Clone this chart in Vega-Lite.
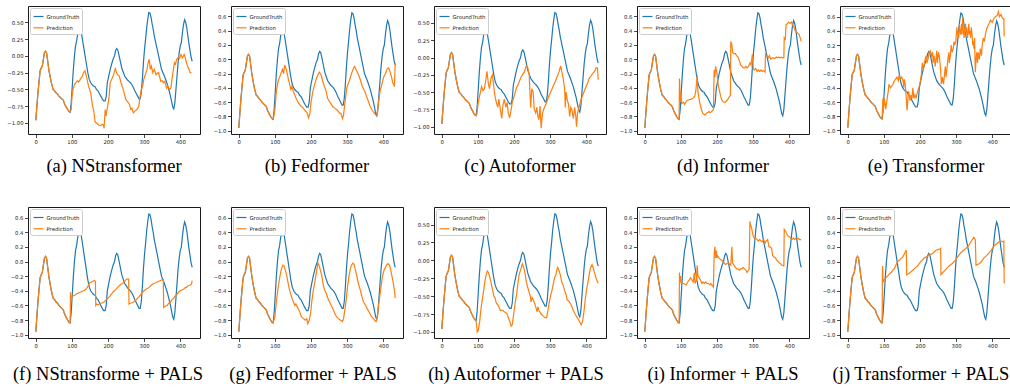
{
"$schema": "https://vega.github.io/schema/vega-lite/v6.json",
"background": "white",
"padding": {"left": 6, "top": 5, "right": 0, "bottom": 0},
"datasets": {
"gt": [
{"x":0,"y":-0.96},{"x":3,"y":-0.75},{"x":6,"y":-0.55},{"x":9,"y":-0.38},{"x":12,"y":-0.22},{"x":15,"y":-0.18},{"x":18,"y":-0.15},{"x":21,"y":-0.05},{"x":24,"y":0.05},{"x":27,"y":0.07},{"x":30,"y":0.04},{"x":33,"y":-0.08},{"x":36,"y":-0.2},{"x":40,"y":-0.32},{"x":44,"y":-0.42},{"x":48,"y":-0.5},{"x":52,"y":-0.52},{"x":56,"y":-0.55},{"x":60,"y":-0.57},{"x":64,"y":-0.6},{"x":68,"y":-0.62},{"x":72,"y":-0.64},{"x":76,"y":-0.66},{"x":80,"y":-0.72},{"x":84,"y":-0.76},{"x":88,"y":-0.8},{"x":92,"y":-0.83},{"x":95,"y":-0.84},{"x":98,"y":-0.7},{"x":101,"y":-0.45},{"x":104,"y":-0.2},{"x":107,"y":0.0},{"x":110,"y":0.15},{"x":113,"y":0.22},{"x":116,"y":0.33},{"x":119,"y":0.38},{"x":121,"y":0.37},{"x":123,"y":0.41},{"x":126,"y":0.35},{"x":129,"y":0.25},{"x":132,"y":0.15},{"x":135,"y":0.05},{"x":138,"y":-0.05},{"x":141,"y":-0.15},{"x":144,"y":-0.25},{"x":148,"y":-0.35},{"x":152,"y":-0.4},{"x":156,"y":-0.43},{"x":160,"y":-0.45},{"x":164,"y":-0.46},{"x":168,"y":-0.5},{"x":172,"y":-0.52},{"x":176,"y":-0.56},{"x":180,"y":-0.6},{"x":184,"y":-0.64},{"x":188,"y":-0.67},{"x":192,"y":-0.67},{"x":195,"y":-0.6},{"x":198,"y":-0.4},{"x":202,"y":-0.3},{"x":206,"y":-0.2},{"x":210,"y":-0.12},{"x":214,"y":-0.05},{"x":218,"y":0.0},{"x":221,"y":0.08},{"x":224,"y":0.11},{"x":227,"y":0.09},{"x":230,"y":0.02},{"x":234,"y":-0.08},{"x":238,"y":-0.18},{"x":242,"y":-0.24},{"x":246,"y":-0.3},{"x":250,"y":-0.33},{"x":254,"y":-0.36},{"x":258,"y":-0.38},{"x":262,"y":-0.4},{"x":266,"y":-0.43},{"x":270,"y":-0.47},{"x":274,"y":-0.52},{"x":278,"y":-0.56},{"x":282,"y":-0.6},{"x":286,"y":-0.64},{"x":289,"y":-0.64},{"x":292,"y":-0.55},{"x":295,"y":-0.35},{"x":298,"y":-0.1},{"x":301,"y":0.1},{"x":304,"y":0.25},{"x":307,"y":0.42},{"x":310,"y":0.55},{"x":313,"y":0.65},{"x":316,"y":0.64},{"x":319,"y":0.58},{"x":322,"y":0.48},{"x":325,"y":0.4},{"x":328,"y":0.3},{"x":332,"y":0.2},{"x":336,"y":0.1},{"x":340,"y":0.0},{"x":344,"y":-0.1},{"x":348,"y":-0.2},{"x":352,"y":-0.25},{"x":356,"y":-0.3},{"x":360,"y":-0.36},{"x":364,"y":-0.42},{"x":368,"y":-0.5},{"x":372,"y":-0.58},{"x":376,"y":-0.68},{"x":379,"y":-0.76},{"x":382,"y":-0.79},{"x":385,"y":-0.7},{"x":388,"y":-0.5},{"x":391,"y":-0.3},{"x":394,"y":-0.1},{"x":397,"y":0.05},{"x":400,"y":0.15},{"x":403,"y":0.2},{"x":406,"y":0.35},{"x":409,"y":0.47},{"x":412,"y":0.54},{"x":415,"y":0.5},{"x":418,"y":0.42},{"x":421,"y":0.3},{"x":424,"y":0.18},{"x":427,"y":0.08},{"x":430,"y":-0.02},{"x":433,"y":-0.08}
],
"pred": [
{"p":"a","x":95,"y":-0.84},{"p":"a","x":98,"y":-0.8},{"p":"a","x":100,"y":-0.62},{"p":"a","x":103,"y":-0.5},{"p":"a","x":106,"y":-0.45},{"p":"a","x":108,"y":-0.42},{"p":"a","x":111,"y":-0.4},{"p":"a","x":115,"y":-0.37},{"p":"a","x":118,"y":-0.39},{"p":"a","x":120,"y":-0.38},{"p":"a","x":125,"y":-0.33},{"p":"a","x":129,"y":-0.3},{"p":"a","x":132,"y":-0.25},{"p":"a","x":136,"y":-0.22},{"p":"a","x":140,"y":-0.3},{"p":"a","x":146,"y":-0.45},{"p":"a","x":152,"y":-0.55},{"p":"a","x":157,"y":-0.75},{"p":"a","x":160,"y":-0.8},{"p":"a","x":164,"y":-0.98},{"p":"a","x":168,"y":-1.0},{"p":"a","x":174,"y":-1.03},{"p":"a","x":180,"y":-1.04},{"p":"a","x":184,"y":-1.02},{"p":"a","x":187,"y":-1.03},{"p":"a","x":189,"y":-1.08},{"p":"a","x":192,"y":-0.8},{"p":"a","x":194,"y":-0.9},{"p":"a","x":199,"y":-0.75},{"p":"a","x":203,"y":-0.6},{"p":"a","x":206,"y":-0.4},{"p":"a","x":210,"y":-0.35},{"p":"a","x":214,"y":-0.3},{"p":"a","x":217,"y":-0.25},{"p":"a","x":220,"y":-0.19},{"p":"a","x":223,"y":-0.24},{"p":"a","x":226,"y":-0.28},{"p":"a","x":231,"y":-0.3},{"p":"a","x":236,"y":-0.4},{"p":"a","x":242,"y":-0.5},{"p":"a","x":246,"y":-0.58},{"p":"a","x":249,"y":-0.65},{"p":"a","x":254,"y":-0.68},{"p":"a","x":259,"y":-0.72},{"p":"a","x":263,"y":-0.8},{"p":"a","x":266,"y":-0.78},{"p":"a","x":270,"y":-0.85},{"p":"a","x":275,"y":-0.82},{"p":"a","x":280,"y":-0.8},{"p":"a","x":285,"y":-0.75},{"p":"a","x":289,"y":-0.6},{"p":"a","x":292,"y":-0.5},{"p":"a","x":296,"y":-0.45},{"p":"a","x":299,"y":-0.35},{"p":"a","x":302,"y":-0.3},{"p":"a","x":305,"y":-0.25},{"p":"a","x":308,"y":-0.2},{"p":"a","x":311,"y":-0.1},{"p":"a","x":314,"y":-0.05},{"p":"a","x":317,"y":-0.2},{"p":"a","x":320,"y":-0.15},{"p":"a","x":324,"y":-0.25},{"p":"a","x":328,"y":-0.2},{"p":"a","x":333,"y":-0.28},{"p":"a","x":336,"y":-0.26},{"p":"a","x":340,"y":-0.25},{"p":"a","x":346,"y":-0.38},{"p":"a","x":350,"y":-0.37},{"p":"a","x":353,"y":-0.4},{"p":"a","x":357,"y":-0.38},{"p":"a","x":362,"y":-0.48},{"p":"a","x":365,"y":-0.45},{"p":"a","x":370,"y":-0.5},{"p":"a","x":374,"y":-0.48},{"p":"a","x":377,"y":-0.35},{"p":"a","x":381,"y":-0.2},{"p":"a","x":384,"y":-0.1},{"p":"a","x":387,"y":-0.12},{"p":"a","x":390,"y":-0.05},{"p":"a","x":395,"y":-0.02},{"p":"a","x":398,"y":-0.04},{"p":"a","x":402,"y":0.02},{"p":"a","x":406,"y":-0.03},{"p":"a","x":411,"y":0.02},{"p":"a","x":414,"y":-0.03},{"p":"a","x":416,"y":-0.08},{"p":"a","x":420,"y":-0.15},{"p":"a","x":424,"y":-0.2},{"p":"a","x":427,"y":-0.25},{"p":"a","x":431,"y":-0.25},
{"p":"b","x":95,"y":-0.84},{"p":"b","x":97,"y":-0.8},{"p":"b","x":100,"y":-0.7},{"p":"b","x":104,"y":-0.45},{"p":"b","x":109,"y":-0.3},{"p":"b","x":113,"y":-0.25},{"p":"b","x":118,"y":-0.18},{"p":"b","x":121,"y":-0.14},{"p":"b","x":124,"y":-0.2},{"p":"b","x":127,"y":-0.08},{"p":"b","x":132,"y":-0.15},{"p":"b","x":135,"y":-0.22},{"p":"b","x":138,"y":-0.3},{"p":"b","x":141,"y":-0.35},{"p":"b","x":144,"y":-0.42},{"p":"b","x":147,"y":-0.38},{"p":"b","x":151,"y":-0.45},{"p":"b","x":155,"y":-0.5},{"p":"b","x":159,"y":-0.55},{"p":"b","x":164,"y":-0.6},{"p":"b","x":171,"y":-0.65},{"p":"b","x":178,"y":-0.68},{"p":"b","x":184,"y":-0.72},{"p":"b","x":189,"y":-0.75},{"p":"b","x":193,"y":-0.82},{"p":"b","x":197,"y":-0.75},{"p":"b","x":200,"y":-0.6},{"p":"b","x":205,"y":-0.45},{"p":"b","x":210,"y":-0.35},{"p":"b","x":214,"y":-0.28},{"p":"b","x":219,"y":-0.22},{"p":"b","x":223,"y":-0.18},{"p":"b","x":228,"y":-0.22},{"p":"b","x":232,"y":-0.3},{"p":"b","x":237,"y":-0.38},{"p":"b","x":242,"y":-0.45},{"p":"b","x":246,"y":-0.55},{"p":"b","x":255,"y":-0.62},{"p":"b","x":260,"y":-0.66},{"p":"b","x":265,"y":-0.68},{"p":"b","x":270,"y":-0.7},{"p":"b","x":274,"y":-0.72},{"p":"b","x":279,"y":-0.75},{"p":"b","x":283,"y":-0.76},{"p":"b","x":287,"y":-0.83},{"p":"b","x":290,"y":-0.78},{"p":"b","x":294,"y":-0.6},{"p":"b","x":299,"y":-0.4},{"p":"b","x":306,"y":-0.3},{"p":"b","x":312,"y":-0.2},{"p":"b","x":318,"y":-0.12},{"p":"b","x":321,"y":-0.1},{"p":"b","x":325,"y":-0.15},{"p":"b","x":330,"y":-0.2},{"p":"b","x":336,"y":-0.28},{"p":"b","x":342,"y":-0.38},{"p":"b","x":349,"y":-0.45},{"p":"b","x":356,"y":-0.55},{"p":"b","x":363,"y":-0.65},{"p":"b","x":370,"y":-0.72},{"p":"b","x":376,"y":-0.76},{"p":"b","x":380,"y":-0.78},{"p":"b","x":383,"y":-0.76},{"p":"b","x":387,"y":-0.6},{"p":"b","x":391,"y":-0.45},{"p":"b","x":396,"y":-0.35},{"p":"b","x":401,"y":-0.25},{"p":"b","x":406,"y":-0.2},{"p":"b","x":411,"y":-0.13},{"p":"b","x":415,"y":-0.12},{"p":"b","x":419,"y":-0.18},{"p":"b","x":423,"y":-0.25},{"p":"b","x":426,"y":-0.33},{"p":"b","x":429,"y":-0.35},{"p":"b","x":431,"y":-0.38},{"p":"b","x":433,"y":-0.05},
{"p":"c","x":95,"y":-0.84},{"p":"c","x":97,"y":-0.82},{"p":"c","x":101,"y":-0.65},{"p":"c","x":106,"y":-0.52},{"p":"c","x":110,"y":-0.42},{"p":"c","x":114,"y":-0.48},{"p":"c","x":118,"y":-0.45},{"p":"c","x":121,"y":-0.35},{"p":"c","x":125,"y":-0.2},{"p":"c","x":129,"y":-0.38},{"p":"c","x":132,"y":-0.45},{"p":"c","x":136,"y":-0.3},{"p":"c","x":140,"y":-0.25},{"p":"c","x":143,"y":-0.38},{"p":"c","x":147,"y":-0.55},{"p":"c","x":151,"y":-0.65},{"p":"c","x":155,"y":-0.72},{"p":"c","x":158,"y":-0.6},{"p":"c","x":162,"y":-0.75},{"p":"c","x":166,"y":-0.88},{"p":"c","x":169,"y":-0.7},{"p":"c","x":173,"y":-0.6},{"p":"c","x":177,"y":-0.72},{"p":"c","x":181,"y":-0.65},{"p":"c","x":184,"y":-0.8},{"p":"c","x":188,"y":-0.87},{"p":"c","x":192,"y":-0.75},{"p":"c","x":195,"y":-0.65},{"p":"c","x":201,"y":-0.55},{"p":"c","x":206,"y":-0.45},{"p":"c","x":212,"y":-0.38},{"p":"c","x":218,"y":-0.3},{"p":"c","x":223,"y":-0.25},{"p":"c","x":229,"y":-0.2},{"p":"c","x":234,"y":-0.12},{"p":"c","x":238,"y":-0.15},{"p":"c","x":242,"y":-0.25},{"p":"c","x":244,"y":-0.5},{"p":"c","x":246,"y":-0.72},{"p":"c","x":249,"y":-0.45},{"p":"c","x":253,"y":-0.5},{"p":"c","x":256,"y":-0.75},{"p":"c","x":260,"y":-0.8},{"p":"c","x":263,"y":-0.72},{"p":"c","x":266,"y":-0.85},{"p":"c","x":269,"y":-0.9},{"p":"c","x":272,"y":-0.7},{"p":"c","x":275,"y":-1.02},{"p":"c","x":279,"y":-0.8},{"p":"c","x":282,"y":-0.75},{"p":"c","x":286,"y":-0.7},{"p":"c","x":292,"y":-0.62},{"p":"c","x":297,"y":-0.55},{"p":"c","x":303,"y":-0.48},{"p":"c","x":308,"y":-0.42},{"p":"c","x":314,"y":-0.35},{"p":"c","x":319,"y":-0.28},{"p":"c","x":325,"y":-0.2},{"p":"c","x":329,"y":-0.12},{"p":"c","x":332,"y":-0.2},{"p":"c","x":336,"y":-0.3},{"p":"c","x":340,"y":-0.45},{"p":"c","x":342,"y":-0.72},{"p":"c","x":344,"y":-0.5},{"p":"c","x":347,"y":-0.6},{"p":"c","x":351,"y":-0.68},{"p":"c","x":354,"y":-0.85},{"p":"c","x":357,"y":-0.72},{"p":"c","x":360,"y":-0.75},{"p":"c","x":364,"y":-0.88},{"p":"c","x":368,"y":-0.72},{"p":"c","x":371,"y":-0.85},{"p":"c","x":373,"y":-1.0},{"p":"c","x":376,"y":-0.8},{"p":"c","x":381,"y":-0.7},{"p":"c","x":386,"y":-0.6},{"p":"c","x":392,"y":-0.52},{"p":"c","x":397,"y":-0.45},{"p":"c","x":403,"y":-0.38},{"p":"c","x":408,"y":-0.3},{"p":"c","x":414,"y":-0.26},{"p":"c","x":419,"y":-0.22},{"p":"c","x":423,"y":-0.2},{"p":"c","x":427,"y":-0.15},{"p":"c","x":431,"y":-0.15},{"p":"c","x":433,"y":-0.32},
{"p":"d","x":95,"y":-0.84},{"p":"d","x":96,"y":-0.27},{"p":"d","x":98,"y":-0.6},{"p":"d","x":100,"y":-0.45},{"p":"d","x":102,"y":-0.62},{"p":"d","x":107,"y":-0.6},{"p":"d","x":110,"y":-0.63},{"p":"d","x":116,"y":-0.58},{"p":"d","x":121,"y":-0.57},{"p":"d","x":127,"y":-0.56},{"p":"d","x":132,"y":-0.55},{"p":"d","x":138,"y":-0.52},{"p":"d","x":141,"y":-0.45},{"p":"d","x":143,"y":-0.35},{"p":"d","x":145,"y":-0.22},{"p":"d","x":147,"y":-0.45},{"p":"d","x":150,"y":-0.55},{"p":"d","x":154,"y":-0.65},{"p":"d","x":158,"y":-0.72},{"p":"d","x":161,"y":-0.76},{"p":"d","x":167,"y":-0.78},{"p":"d","x":172,"y":-0.75},{"p":"d","x":178,"y":-0.73},{"p":"d","x":181,"y":-0.75},{"p":"d","x":187,"y":-0.72},{"p":"d","x":190,"y":-0.7},{"p":"d","x":192,"y":-0.15},{"p":"d","x":194,"y":-0.25},{"p":"d","x":196,"y":-0.1},{"p":"d","x":200,"y":-0.2},{"p":"d","x":203,"y":-0.35},{"p":"d","x":207,"y":-0.45},{"p":"d","x":210,"y":-0.52},{"p":"d","x":214,"y":-0.58},{"p":"d","x":218,"y":-0.6},{"p":"d","x":223,"y":-0.6},{"p":"d","x":227,"y":-0.58},{"p":"d","x":231,"y":-0.55},{"p":"d","x":237,"y":-0.5},{"p":"d","x":238,"y":0.25},{"p":"d","x":241,"y":0.2},{"p":"d","x":243,"y":0.1},{"p":"d","x":247,"y":0.08},{"p":"d","x":251,"y":0.08},{"p":"d","x":254,"y":0.05},{"p":"d","x":258,"y":0.03},{"p":"d","x":262,"y":-0.02},{"p":"d","x":265,"y":-0.08},{"p":"d","x":269,"y":-0.1},{"p":"d","x":272,"y":-0.12},{"p":"d","x":276,"y":-0.12},{"p":"d","x":280,"y":-0.1},{"p":"d","x":283,"y":-0.12},{"p":"d","x":287,"y":-0.1},{"p":"d","x":291,"y":-0.05},{"p":"d","x":294,"y":-0.08},{"p":"d","x":298,"y":0.07},{"p":"d","x":300,"y":-0.12},{"p":"d","x":303,"y":-0.15},{"p":"d","x":307,"y":-0.13},{"p":"d","x":311,"y":-0.17},{"p":"d","x":314,"y":-0.15},{"p":"d","x":318,"y":-0.17},{"p":"d","x":322,"y":-0.15},{"p":"d","x":325,"y":-0.17},{"p":"d","x":329,"y":-0.16},{"p":"d","x":333,"y":-0.18},{"p":"d","x":334,"y":0.07},{"p":"d","x":338,"y":0.05},{"p":"d","x":342,"y":0.02},{"p":"d","x":345,"y":0.05},{"p":"d","x":349,"y":0.0},{"p":"d","x":353,"y":0.02},{"p":"d","x":356,"y":0.02},{"p":"d","x":360,"y":0.01},{"p":"d","x":364,"y":0.03},{"p":"d","x":367,"y":0.02},{"p":"d","x":371,"y":0.03},{"p":"d","x":375,"y":0.02},{"p":"d","x":378,"y":0.03},{"p":"d","x":382,"y":0.02},{"p":"d","x":385,"y":0.02},{"p":"d","x":386,"y":0.3},{"p":"d","x":389,"y":0.28},{"p":"d","x":391,"y":0.48},{"p":"d","x":395,"y":0.5},{"p":"d","x":398,"y":0.52},{"p":"d","x":402,"y":0.5},{"p":"d","x":406,"y":0.52},{"p":"d","x":409,"y":0.48},{"p":"d","x":413,"y":0.45},{"p":"d","x":416,"y":0.4},{"p":"d","x":420,"y":0.38},{"p":"d","x":424,"y":0.36},{"p":"d","x":427,"y":0.35},{"p":"d","x":430,"y":0.3},{"p":"d","x":432,"y":0.28},{"p":"d","x":433,"y":0.25},
{"p":"e","x":95,"y":-0.84},{"p":"e","x":97,"y":-0.55},{"p":"e","x":98,"y":-0.75},{"p":"e","x":101,"y":-0.55},{"p":"e","x":105,"y":-0.7},{"p":"e","x":109,"y":-0.55},{"p":"e","x":112,"y":-0.45},{"p":"e","x":114,"y":-0.35},{"p":"e","x":118,"y":-0.4},{"p":"e","x":121,"y":-0.38},{"p":"e","x":125,"y":-0.35},{"p":"e","x":129,"y":-0.3},{"p":"e","x":132,"y":-0.28},{"p":"e","x":136,"y":-0.25},{"p":"e","x":140,"y":-0.3},{"p":"e","x":142,"y":-0.22},{"p":"e","x":145,"y":-0.28},{"p":"e","x":149,"y":-0.25},{"p":"e","x":153,"y":-0.3},{"p":"e","x":155,"y":-0.4},{"p":"e","x":156,"y":-0.28},{"p":"e","x":159,"y":-0.35},{"p":"e","x":162,"y":-0.55},{"p":"e","x":164,"y":-0.72},{"p":"e","x":166,"y":-0.6},{"p":"e","x":167,"y":-0.5},{"p":"e","x":169,"y":-0.45},{"p":"e","x":172,"y":-0.58},{"p":"e","x":175,"y":-0.5},{"p":"e","x":178,"y":-0.55},{"p":"e","x":180,"y":-0.4},{"p":"e","x":183,"y":-0.55},{"p":"e","x":186,"y":-0.5},{"p":"e","x":189,"y":-0.55},{"p":"e","x":193,"y":-0.45},{"p":"e","x":197,"y":-0.4},{"p":"e","x":201,"y":-0.3},{"p":"e","x":204,"y":-0.2},{"p":"e","x":206,"y":-0.05},{"p":"e","x":209,"y":-0.15},{"p":"e","x":212,"y":-0.05},{"p":"e","x":214,"y":0.0},{"p":"e","x":217,"y":0.05},{"p":"e","x":219,"y":-0.05},{"p":"e","x":223,"y":0.02},{"p":"e","x":225,"y":0.1},{"p":"e","x":228,"y":0.12},{"p":"e","x":232,"y":0.05},{"p":"e","x":235,"y":0.1},{"p":"e","x":236,"y":-0.05},{"p":"e","x":239,"y":0.05},{"p":"e","x":242,"y":-0.1},{"p":"e","x":245,"y":0.05},{"p":"e","x":246,"y":0.12},{"p":"e","x":248,"y":-0.05},{"p":"e","x":251,"y":0.1},{"p":"e","x":254,"y":0.02},{"p":"e","x":257,"y":-0.15},{"p":"e","x":259,"y":-0.35},{"p":"e","x":262,"y":-0.25},{"p":"e","x":265,"y":-0.35},{"p":"e","x":268,"y":-0.2},{"p":"e","x":270,"y":-0.1},{"p":"e","x":272,"y":-0.25},{"p":"e","x":274,"y":-0.15},{"p":"e","x":277,"y":0.0},{"p":"e","x":280,"y":0.1},{"p":"e","x":281,"y":-0.05},{"p":"e","x":284,"y":0.05},{"p":"e","x":286,"y":0.2},{"p":"e","x":289,"y":0.1},{"p":"e","x":292,"y":0.15},{"p":"e","x":294,"y":0.25},{"p":"e","x":296,"y":0.2},{"p":"e","x":299,"y":0.25},{"p":"e","x":302,"y":0.45},{"p":"e","x":303,"y":0.35},{"p":"e","x":305,"y":0.4},{"p":"e","x":307,"y":0.3},{"p":"e","x":309,"y":0.5},{"p":"e","x":311,"y":0.38},{"p":"e","x":313,"y":0.35},{"p":"e","x":315,"y":0.5},{"p":"e","x":316,"y":0.35},{"p":"e","x":318,"y":0.6},{"p":"e","x":320,"y":0.4},{"p":"e","x":322,"y":0.3},{"p":"e","x":324,"y":0.45},{"p":"e","x":326,"y":0.5},{"p":"e","x":327,"y":0.35},{"p":"e","x":329,"y":0.45},{"p":"e","x":331,"y":0.3},{"p":"e","x":333,"y":0.35},{"p":"e","x":335,"y":0.5},{"p":"e","x":337,"y":0.35},{"p":"e","x":338,"y":0.4},{"p":"e","x":340,"y":0.3},{"p":"e","x":342,"y":0.45},{"p":"e","x":344,"y":0.35},{"p":"e","x":346,"y":0.2},{"p":"e","x":348,"y":0.25},{"p":"e","x":349,"y":0.15},{"p":"e","x":351,"y":0.3},{"p":"e","x":353,"y":-0.18},{"p":"e","x":355,"y":0.0},{"p":"e","x":357,"y":0.1},{"p":"e","x":359,"y":-0.05},{"p":"e","x":361,"y":0.1},{"p":"e","x":364,"y":0.0},{"p":"e","x":367,"y":0.15},{"p":"e","x":370,"y":0.05},{"p":"e","x":372,"y":0.2},{"p":"e","x":375,"y":0.3},{"p":"e","x":378,"y":0.25},{"p":"e","x":381,"y":0.35},{"p":"e","x":383,"y":0.4},{"p":"e","x":386,"y":0.45},{"p":"e","x":391,"y":0.5},{"p":"e","x":395,"y":0.55},{"p":"e","x":400,"y":0.52},{"p":"e","x":405,"y":0.58},{"p":"e","x":409,"y":0.6},{"p":"e","x":414,"y":0.62},{"p":"e","x":417,"y":0.67},{"p":"e","x":420,"y":0.6},{"p":"e","x":424,"y":0.63},{"p":"e","x":428,"y":0.58},{"p":"e","x":431,"y":0.57},{"p":"e","x":432,"y":0.57},{"p":"e","x":433,"y":0.32},
{"p":"f","x":95,"y":-0.84},{"p":"f","x":96,"y":-0.42},{"p":"f","x":97,"y":-0.5},{"p":"f","x":99,"y":-0.49},{"p":"f","x":103,"y":-0.47},{"p":"f","x":108,"y":-0.46},{"p":"f","x":113,"y":-0.44},{"p":"f","x":118,"y":-0.43},{"p":"f","x":123,"y":-0.42},{"p":"f","x":127,"y":-0.41},{"p":"f","x":132,"y":-0.4},{"p":"f","x":136,"y":-0.39},{"p":"f","x":140,"y":-0.37},{"p":"f","x":143,"y":-0.35},{"p":"f","x":147,"y":-0.31},{"p":"f","x":150,"y":-0.29},{"p":"f","x":154,"y":-0.28},{"p":"f","x":158,"y":-0.27},{"p":"f","x":162,"y":-0.26},{"p":"f","x":165,"y":-0.27},{"p":"f","x":166,"y":-0.6},{"p":"f","x":169,"y":-0.58},{"p":"f","x":172,"y":-0.59},{"p":"f","x":176,"y":-0.58},{"p":"f","x":181,"y":-0.57},{"p":"f","x":186,"y":-0.56},{"p":"f","x":190,"y":-0.55},{"p":"f","x":195,"y":-0.52},{"p":"f","x":200,"y":-0.5},{"p":"f","x":204,"y":-0.48},{"p":"f","x":209,"y":-0.45},{"p":"f","x":213,"y":-0.42},{"p":"f","x":218,"y":-0.4},{"p":"f","x":222,"y":-0.38},{"p":"f","x":227,"y":-0.35},{"p":"f","x":231,"y":-0.33},{"p":"f","x":236,"y":-0.31},{"p":"f","x":240,"y":-0.3},{"p":"f","x":245,"y":-0.28},{"p":"f","x":249,"y":-0.25},{"p":"f","x":252,"y":-0.24},{"p":"f","x":257,"y":-0.24},{"p":"f","x":258,"y":-0.58},{"p":"f","x":260,"y":-0.57},{"p":"f","x":263,"y":-0.57},{"p":"f","x":268,"y":-0.56},{"p":"f","x":272,"y":-0.55},{"p":"f","x":277,"y":-0.53},{"p":"f","x":282,"y":-0.5},{"p":"f","x":286,"y":-0.48},{"p":"f","x":291,"y":-0.45},{"p":"f","x":295,"y":-0.42},{"p":"f","x":300,"y":-0.4},{"p":"f","x":305,"y":-0.38},{"p":"f","x":309,"y":-0.37},{"p":"f","x":314,"y":-0.35},{"p":"f","x":318,"y":-0.33},{"p":"f","x":323,"y":-0.31},{"p":"f","x":327,"y":-0.3},{"p":"f","x":332,"y":-0.29},{"p":"f","x":336,"y":-0.28},{"p":"f","x":341,"y":-0.27},{"p":"f","x":345,"y":-0.26},{"p":"f","x":350,"y":-0.25},{"p":"f","x":353,"y":-0.25},{"p":"f","x":354,"y":-0.63},{"p":"f","x":358,"y":-0.61},{"p":"f","x":364,"y":-0.6},{"p":"f","x":368,"y":-0.57},{"p":"f","x":373,"y":-0.55},{"p":"f","x":377,"y":-0.52},{"p":"f","x":382,"y":-0.5},{"p":"f","x":386,"y":-0.47},{"p":"f","x":391,"y":-0.45},{"p":"f","x":395,"y":-0.42},{"p":"f","x":400,"y":-0.4},{"p":"f","x":404,"y":-0.39},{"p":"f","x":409,"y":-0.38},{"p":"f","x":413,"y":-0.36},{"p":"f","x":418,"y":-0.35},{"p":"f","x":422,"y":-0.33},{"p":"f","x":427,"y":-0.32},{"p":"f","x":431,"y":-0.31},{"p":"f","x":433,"y":-0.26},
{"p":"g","x":95,"y":-0.84},{"p":"g","x":100,"y":-0.75},{"p":"g","x":104,"y":-0.55},{"p":"g","x":109,"y":-0.35},{"p":"g","x":114,"y":-0.2},{"p":"g","x":118,"y":-0.1},{"p":"g","x":122,"y":-0.05},{"p":"g","x":125,"y":-0.06},{"p":"g","x":129,"y":-0.12},{"p":"g","x":133,"y":-0.2},{"p":"g","x":136,"y":-0.28},{"p":"g","x":140,"y":-0.38},{"p":"g","x":144,"y":-0.45},{"p":"g","x":147,"y":-0.5},{"p":"g","x":151,"y":-0.55},{"p":"g","x":155,"y":-0.6},{"p":"g","x":158,"y":-0.58},{"p":"g","x":162,"y":-0.62},{"p":"g","x":168,"y":-0.68},{"p":"g","x":173,"y":-0.75},{"p":"g","x":179,"y":-0.78},{"p":"g","x":184,"y":-0.8},{"p":"g","x":188,"y":-0.78},{"p":"g","x":191,"y":-0.85},{"p":"g","x":195,"y":-0.8},{"p":"g","x":199,"y":-0.7},{"p":"g","x":202,"y":-0.55},{"p":"g","x":206,"y":-0.4},{"p":"g","x":210,"y":-0.3},{"p":"g","x":213,"y":-0.2},{"p":"g","x":217,"y":-0.08},{"p":"g","x":219,"y":-0.02},{"p":"g","x":222,"y":-0.05},{"p":"g","x":226,"y":-0.12},{"p":"g","x":230,"y":-0.2},{"p":"g","x":233,"y":-0.3},{"p":"g","x":237,"y":-0.38},{"p":"g","x":243,"y":-0.45},{"p":"g","x":248,"y":-0.52},{"p":"g","x":254,"y":-0.58},{"p":"g","x":259,"y":-0.63},{"p":"g","x":265,"y":-0.7},{"p":"g","x":270,"y":-0.75},{"p":"g","x":276,"y":-0.78},{"p":"g","x":281,"y":-0.8},{"p":"g","x":287,"y":-0.82},{"p":"g","x":290,"y":-0.78},{"p":"g","x":294,"y":-0.65},{"p":"g","x":298,"y":-0.5},{"p":"g","x":301,"y":-0.35},{"p":"g","x":305,"y":-0.2},{"p":"g","x":309,"y":-0.1},{"p":"g","x":312,"y":-0.05},{"p":"g","x":316,"y":-0.02},{"p":"g","x":320,"y":-0.05},{"p":"g","x":323,"y":-0.12},{"p":"g","x":327,"y":-0.2},{"p":"g","x":330,"y":-0.28},{"p":"g","x":334,"y":-0.35},{"p":"g","x":338,"y":-0.42},{"p":"g","x":341,"y":-0.48},{"p":"g","x":345,"y":-0.55},{"p":"g","x":351,"y":-0.6},{"p":"g","x":356,"y":-0.65},{"p":"g","x":362,"y":-0.7},{"p":"g","x":367,"y":-0.75},{"p":"g","x":373,"y":-0.78},{"p":"g","x":376,"y":-0.8},{"p":"g","x":380,"y":-0.82},{"p":"g","x":384,"y":-0.75},{"p":"g","x":387,"y":-0.6},{"p":"g","x":391,"y":-0.45},{"p":"g","x":395,"y":-0.3},{"p":"g","x":398,"y":-0.2},{"p":"g","x":402,"y":-0.12},{"p":"g","x":406,"y":-0.08},{"p":"g","x":409,"y":-0.05},{"p":"g","x":413,"y":-0.03},{"p":"g","x":417,"y":-0.05},{"p":"g","x":420,"y":-0.1},{"p":"g","x":424,"y":-0.2},{"p":"g","x":428,"y":-0.3},{"p":"g","x":431,"y":-0.4},{"p":"g","x":433,"y":-0.5},
{"p":"h","x":95,"y":-0.84},{"p":"h","x":98,"y":-1.0},{"p":"h","x":101,"y":-0.98},{"p":"h","x":105,"y":-0.85},{"p":"h","x":108,"y":-0.7},{"p":"h","x":112,"y":-0.55},{"p":"h","x":116,"y":-0.42},{"p":"h","x":119,"y":-0.3},{"p":"h","x":123,"y":-0.2},{"p":"h","x":126,"y":-0.15},{"p":"h","x":129,"y":-0.17},{"p":"h","x":132,"y":-0.22},{"p":"h","x":136,"y":-0.3},{"p":"h","x":140,"y":-0.4},{"p":"h","x":144,"y":-0.5},{"p":"h","x":147,"y":-0.52},{"p":"h","x":151,"y":-0.6},{"p":"h","x":155,"y":-0.62},{"p":"h","x":158,"y":-0.65},{"p":"h","x":162,"y":-0.7},{"p":"h","x":166,"y":-0.7},{"p":"h","x":169,"y":-0.7},{"p":"h","x":173,"y":-0.72},{"p":"h","x":177,"y":-0.73},{"p":"h","x":181,"y":-0.75},{"p":"h","x":184,"y":-0.8},{"p":"h","x":188,"y":-0.85},{"p":"h","x":192,"y":-0.92},{"p":"h","x":195,"y":-0.9},{"p":"h","x":199,"y":-0.75},{"p":"h","x":203,"y":-0.6},{"p":"h","x":207,"y":-0.48},{"p":"h","x":210,"y":-0.35},{"p":"h","x":214,"y":-0.2},{"p":"h","x":219,"y":-0.12},{"p":"h","x":223,"y":-0.05},{"p":"h","x":227,"y":-0.1},{"p":"h","x":231,"y":-0.2},{"p":"h","x":234,"y":-0.3},{"p":"h","x":238,"y":-0.38},{"p":"h","x":242,"y":-0.45},{"p":"h","x":245,"y":-0.5},{"p":"h","x":247,"y":-0.58},{"p":"h","x":250,"y":-0.52},{"p":"h","x":253,"y":-0.55},{"p":"h","x":257,"y":-0.6},{"p":"h","x":260,"y":-0.65},{"p":"h","x":264,"y":-0.72},{"p":"h","x":266,"y":-0.65},{"p":"h","x":269,"y":-0.7},{"p":"h","x":275,"y":-0.75},{"p":"h","x":281,"y":-0.78},{"p":"h","x":286,"y":-0.8},{"p":"h","x":290,"y":-0.8},{"p":"h","x":294,"y":-0.7},{"p":"h","x":297,"y":-0.6},{"p":"h","x":301,"y":-0.5},{"p":"h","x":305,"y":-0.42},{"p":"h","x":308,"y":-0.35},{"p":"h","x":312,"y":-0.25},{"p":"h","x":316,"y":-0.2},{"p":"h","x":319,"y":-0.12},{"p":"h","x":321,"y":-0.1},{"p":"h","x":325,"y":-0.15},{"p":"h","x":329,"y":-0.22},{"p":"h","x":332,"y":-0.3},{"p":"h","x":336,"y":-0.35},{"p":"h","x":340,"y":-0.42},{"p":"h","x":344,"y":-0.48},{"p":"h","x":347,"y":-0.55},{"p":"h","x":353,"y":-0.58},{"p":"h","x":358,"y":-0.62},{"p":"h","x":364,"y":-0.7},{"p":"h","x":369,"y":-0.75},{"p":"h","x":375,"y":-0.8},{"p":"h","x":381,"y":-0.85},{"p":"h","x":386,"y":-0.9},{"p":"h","x":390,"y":-0.85},{"p":"h","x":394,"y":-0.7},{"p":"h","x":397,"y":-0.55},{"p":"h","x":401,"y":-0.4},{"p":"h","x":405,"y":-0.3},{"p":"h","x":408,"y":-0.2},{"p":"h","x":412,"y":-0.1},{"p":"h","x":416,"y":-0.06},{"p":"h","x":419,"y":-0.1},{"p":"h","x":423,"y":-0.18},{"p":"h","x":427,"y":-0.25},{"p":"h","x":431,"y":-0.3},{"p":"h","x":433,"y":-0.32},
{"p":"i","x":95,"y":-0.84},{"p":"i","x":96,"y":-0.15},{"p":"i","x":97,"y":-0.3},{"p":"i","x":99,"y":-0.2},{"p":"i","x":101,"y":-0.28},{"p":"i","x":105,"y":-0.3},{"p":"i","x":108,"y":-0.3},{"p":"i","x":114,"y":-0.32},{"p":"i","x":119,"y":-0.28},{"p":"i","x":123,"y":-0.25},{"p":"i","x":127,"y":-0.22},{"p":"i","x":130,"y":-0.25},{"p":"i","x":134,"y":-0.28},{"p":"i","x":137,"y":-0.15},{"p":"i","x":139,"y":-0.3},{"p":"i","x":143,"y":-0.25},{"p":"i","x":145,"y":-0.05},{"p":"i","x":147,"y":-0.2},{"p":"i","x":150,"y":-0.22},{"p":"i","x":154,"y":-0.25},{"p":"i","x":158,"y":-0.3},{"p":"i","x":161,"y":-0.28},{"p":"i","x":165,"y":-0.3},{"p":"i","x":169,"y":-0.28},{"p":"i","x":172,"y":-0.3},{"p":"i","x":176,"y":-0.3},{"p":"i","x":180,"y":-0.32},{"p":"i","x":183,"y":-0.3},{"p":"i","x":187,"y":-0.33},{"p":"i","x":190,"y":-0.35},{"p":"i","x":192,"y":0.1},{"p":"i","x":194,"y":0.2},{"p":"i","x":196,"y":0.05},{"p":"i","x":198,"y":0.15},{"p":"i","x":200,"y":0.05},{"p":"i","x":201,"y":0.08},{"p":"i","x":205,"y":0.05},{"p":"i","x":209,"y":0.03},{"p":"i","x":212,"y":0.02},{"p":"i","x":216,"y":0.0},{"p":"i","x":220,"y":-0.02},{"p":"i","x":223,"y":-0.04},{"p":"i","x":227,"y":-0.03},{"p":"i","x":231,"y":-0.02},{"p":"i","x":234,"y":-0.03},{"p":"i","x":238,"y":-0.05},{"p":"i","x":241,"y":0.2},{"p":"i","x":243,"y":-0.02},{"p":"i","x":247,"y":-0.05},{"p":"i","x":251,"y":-0.08},{"p":"i","x":254,"y":-0.1},{"p":"i","x":258,"y":-0.1},{"p":"i","x":262,"y":-0.12},{"p":"i","x":265,"y":-0.1},{"p":"i","x":269,"y":-0.1},{"p":"i","x":272,"y":-0.08},{"p":"i","x":276,"y":-0.1},{"p":"i","x":280,"y":-0.12},{"p":"i","x":283,"y":-0.15},{"p":"i","x":287,"y":-0.12},{"p":"i","x":289,"y":-0.1},{"p":"i","x":291,"y":0.55},{"p":"i","x":293,"y":0.5},{"p":"i","x":296,"y":0.45},{"p":"i","x":300,"y":0.35},{"p":"i","x":303,"y":0.32},{"p":"i","x":307,"y":0.32},{"p":"i","x":311,"y":0.3},{"p":"i","x":314,"y":0.28},{"p":"i","x":318,"y":0.3},{"p":"i","x":322,"y":0.28},{"p":"i","x":325,"y":0.27},{"p":"i","x":329,"y":0.3},{"p":"i","x":333,"y":0.25},{"p":"i","x":336,"y":0.28},{"p":"i","x":340,"y":0.3},{"p":"i","x":344,"y":0.2},{"p":"i","x":347,"y":0.2},{"p":"i","x":351,"y":0.18},{"p":"i","x":354,"y":0.08},{"p":"i","x":358,"y":0.06},{"p":"i","x":362,"y":0.05},{"p":"i","x":365,"y":0.02},{"p":"i","x":369,"y":0.0},{"p":"i","x":373,"y":-0.02},{"p":"i","x":376,"y":-0.03},{"p":"i","x":380,"y":-0.05},{"p":"i","x":384,"y":-0.06},{"p":"i","x":385,"y":-0.06},{"p":"i","x":386,"y":0.44},{"p":"i","x":389,"y":0.42},{"p":"i","x":393,"y":0.38},{"p":"i","x":396,"y":0.35},{"p":"i","x":400,"y":0.34},{"p":"i","x":404,"y":0.32},{"p":"i","x":407,"y":0.3},{"p":"i","x":411,"y":0.32},{"p":"i","x":415,"y":0.3},{"p":"i","x":418,"y":0.32},{"p":"i","x":422,"y":0.32},{"p":"i","x":426,"y":0.31},{"p":"i","x":429,"y":0.3},{"p":"i","x":433,"y":0.3},
{"p":"j","x":95,"y":-0.84},{"p":"j","x":96,"y":-0.06},{"p":"j","x":98,"y":-0.28},{"p":"j","x":101,"y":-0.25},{"p":"j","x":106,"y":-0.22},{"p":"j","x":110,"y":-0.2},{"p":"j","x":115,"y":-0.17},{"p":"j","x":120,"y":-0.15},{"p":"j","x":124,"y":-0.12},{"p":"j","x":129,"y":-0.1},{"p":"j","x":133,"y":-0.05},{"p":"j","x":138,"y":0.0},{"p":"j","x":143,"y":0.02},{"p":"j","x":147,"y":0.04},{"p":"j","x":152,"y":0.06},{"p":"j","x":156,"y":0.1},{"p":"j","x":161,"y":0.15},{"p":"j","x":162,"y":0.15},{"p":"j","x":163,"y":-0.18},{"p":"j","x":167,"y":-0.17},{"p":"j","x":175,"y":-0.14},{"p":"j","x":184,"y":-0.1},{"p":"j","x":193,"y":-0.06},{"p":"j","x":202,"y":0.0},{"p":"j","x":212,"y":0.05},{"p":"j","x":221,"y":0.07},{"p":"j","x":226,"y":0.1},{"p":"j","x":232,"y":0.1},{"p":"j","x":237,"y":0.12},{"p":"j","x":243,"y":0.15},{"p":"j","x":248,"y":0.16},{"p":"j","x":254,"y":0.17},{"p":"j","x":257,"y":0.18},{"p":"j","x":258,"y":-0.18},{"p":"j","x":263,"y":-0.15},{"p":"j","x":269,"y":-0.12},{"p":"j","x":276,"y":-0.08},{"p":"j","x":283,"y":-0.05},{"p":"j","x":291,"y":-0.02},{"p":"j","x":298,"y":0.02},{"p":"j","x":305,"y":0.07},{"p":"j","x":313,"y":0.12},{"p":"j","x":320,"y":0.15},{"p":"j","x":327,"y":0.18},{"p":"j","x":335,"y":0.22},{"p":"j","x":342,"y":0.28},{"p":"j","x":349,"y":0.33},{"p":"j","x":353,"y":0.3},{"p":"j","x":355,"y":-0.05},{"p":"j","x":359,"y":-0.04},{"p":"j","x":364,"y":-0.03},{"p":"j","x":370,"y":0.0},{"p":"j","x":377,"y":0.05},{"p":"j","x":384,"y":0.08},{"p":"j","x":392,"y":0.12},{"p":"j","x":399,"y":0.17},{"p":"j","x":406,"y":0.22},{"p":"j","x":414,"y":0.25},{"p":"j","x":419,"y":0.27},{"p":"j","x":425,"y":0.28},{"p":"j","x":429,"y":0.27},{"p":"j","x":432,"y":0.28},{"p":"j","x":433,"y":-0.3}
]
},
"config": {
"font": "DejaVu Sans",
"view": {"stroke": "#1a1a1a", "strokeWidth": 1},
"axis": {"domain": false, "grid": false, "tickColor": "#1a1a1a", "tickSize": 3.5, "tickWidth": 0.8, "labelFont": "DejaVu Sans", "labelFontSize": 5.3, "labelColor": "#1a1a1a", "labelPadding": 1.5},
"legend": {"orient": "top-left", "offset": 2, "padding": 2.5, "fillColor": "white", "strokeColor": "#cccccc", "cornerRadius": 2, "labelFont": "DejaVu Sans", "labelFontSize": 5.3, "labelColor": "#1a1a1a", "labelOffset": 2, "symbolType": "stroke", "symbolSize": 100, "symbolStrokeWidth": 1.2, "rowPadding": 1.3},
"range": {"category": ["#1f77b4", "#ff7f0e"]},
"line": {"strokeWidth": 1.2},
"title": {"orient": "bottom", "anchor": "middle", "font": "Liberation Serif", "fontSize": 18.5, "fontWeight": "normal", "color": "#000000", "offset": 13}
},
"spacing": 29,
"resolve": {"scale": {"color": "independent"}, "legend": {"color": "independent"}},
"vconcat": [
{"hconcat": [
{"width": 172, "height": 128, "title": {"text": "(a)  NStransformer"},
 "encoding": {"x": {"field": "x", "type": "quantitative", "scale": {"domain": [-21.6, 454.6], "nice": false}, "axis": {"values": [0,100,200,300,400], "format": "d", "title": null}},
  "y": {"field": "y", "type": "quantitative", "scale": {"domain": [-1.165, 0.745], "nice": false, "zero": false}, "axis": {"values": [-1,-0.75,-0.5,-0.25,0,0.25,0.5], "format": ".2f", "title": null}}},
 "layer": [
  {"data": {"name": "gt"}, "mark": "line", "encoding": {"color": {"datum": "GroundTruth", "type": "nominal", "legend": {"title": null}}}},
  {"data": {"name": "gt"}, "transform": [{"filter": "datum.x <= 95"}], "mark": "line", "encoding": {"color": {"datum": "Prediction", "type": "nominal"}}},
  {"data": {"name": "pred"}, "transform": [{"filter": "datum.p == 'a'"}], "mark": "line", "encoding": {"color": {"datum": "Prediction", "type": "nominal"}}}
 ]},
{"width": 172, "height": 128, "title": {"text": "(b)  Fedformer"},
 "encoding": {"x": {"field": "x", "type": "quantitative", "scale": {"domain": [-21.6, 454.6], "nice": false}, "axis": {"values": [0,100,200,300,400], "format": "d", "title": null}},
  "y": {"field": "y", "type": "quantitative", "scale": {"domain": [-1.045, 0.745], "nice": false, "zero": false}, "axis": {"values": [-1,-0.8,-0.6,-0.4,-0.2,0,0.2,0.4,0.6], "format": ".1f", "title": null}}},
 "layer": [
  {"data": {"name": "gt"}, "mark": "line", "encoding": {"color": {"datum": "GroundTruth", "type": "nominal", "legend": {"title": null}}}},
  {"data": {"name": "gt"}, "transform": [{"filter": "datum.x <= 95"}], "mark": "line", "encoding": {"color": {"datum": "Prediction", "type": "nominal"}}},
  {"data": {"name": "pred"}, "transform": [{"filter": "datum.p == 'b'"}], "mark": "line", "encoding": {"color": {"datum": "Prediction", "type": "nominal"}}}
 ]},
{"width": 172, "height": 128, "title": {"text": "(c)  Autoformer"},
 "encoding": {"x": {"field": "x", "type": "quantitative", "scale": {"domain": [-21.6, 454.6], "nice": false}, "axis": {"values": [0,100,200,300,400], "format": "d", "title": null}},
  "y": {"field": "y", "type": "quantitative", "scale": {"domain": [-1.105, 0.745], "nice": false, "zero": false}, "axis": {"values": [-1,-0.75,-0.5,-0.25,0,0.25,0.5], "format": ".2f", "title": null}}},
 "layer": [
  {"data": {"name": "gt"}, "mark": "line", "encoding": {"color": {"datum": "GroundTruth", "type": "nominal", "legend": {"title": null}}}},
  {"data": {"name": "gt"}, "transform": [{"filter": "datum.x <= 95"}], "mark": "line", "encoding": {"color": {"datum": "Prediction", "type": "nominal"}}},
  {"data": {"name": "pred"}, "transform": [{"filter": "datum.p == 'c'"}], "mark": "line", "encoding": {"color": {"datum": "Prediction", "type": "nominal"}}}
 ]},
{"width": 172, "height": 128, "title": {"text": "(d)  Informer"},
 "encoding": {"x": {"field": "x", "type": "quantitative", "scale": {"domain": [-21.6, 454.6], "nice": false}, "axis": {"values": [0,100,200,300,400], "format": "d", "title": null}},
  "y": {"field": "y", "type": "quantitative", "scale": {"domain": [-1.045, 0.745], "nice": false, "zero": false}, "axis": {"values": [-1,-0.8,-0.6,-0.4,-0.2,0,0.2,0.4,0.6], "format": ".1f", "title": null}}},
 "layer": [
  {"data": {"name": "gt"}, "mark": "line", "encoding": {"color": {"datum": "GroundTruth", "type": "nominal", "legend": {"title": null}}}},
  {"data": {"name": "gt"}, "transform": [{"filter": "datum.x <= 95"}], "mark": "line", "encoding": {"color": {"datum": "Prediction", "type": "nominal"}}},
  {"data": {"name": "pred"}, "transform": [{"filter": "datum.p == 'd'"}], "mark": "line", "encoding": {"color": {"datum": "Prediction", "type": "nominal"}}}
 ]},
{"width": 172, "height": 128, "title": {"text": "(e)  Transformer"},
 "encoding": {"x": {"field": "x", "type": "quantitative", "scale": {"domain": [-21.6, 454.6], "nice": false}, "axis": {"values": [0,100,200,300,400], "format": "d", "title": null}},
  "y": {"field": "y", "type": "quantitative", "scale": {"domain": [-1.05, 0.75], "nice": false, "zero": false}, "axis": {"values": [-1,-0.8,-0.6,-0.4,-0.2,0,0.2,0.4,0.6], "format": ".1f", "title": null}}},
 "layer": [
  {"data": {"name": "gt"}, "mark": "line", "encoding": {"color": {"datum": "GroundTruth", "type": "nominal", "legend": {"title": null}}}},
  {"data": {"name": "gt"}, "transform": [{"filter": "datum.x <= 95"}], "mark": "line", "encoding": {"color": {"datum": "Prediction", "type": "nominal"}}},
  {"data": {"name": "pred"}, "transform": [{"filter": "datum.p == 'e'"}], "mark": "line", "encoding": {"color": {"datum": "Prediction", "type": "nominal"}}}
 ]}
], "spacing": 31, "bounds": "flush", "resolve": {"scale": {"color": "independent"}, "legend": {"color": "independent"}}},
{"hconcat": [
{"width": 172, "height": 131, "title": {"text": "(f)  NStransforme + PALS", "fontSize": 18.5, "offset": 17, "dx": -6},
 "encoding": {"x": {"field": "x", "type": "quantitative", "scale": {"domain": [-21.6, 454.6], "nice": false}, "axis": {"values": [0,100,200,300,400], "format": "d", "title": null}},
  "y": {"field": "y", "type": "quantitative", "scale": {"domain": [-1.045, 0.745], "nice": false, "zero": false}, "axis": {"values": [-1,-0.8,-0.6,-0.4,-0.2,0,0.2,0.4,0.6], "format": ".1f", "title": null}}},
 "layer": [
  {"data": {"name": "gt"}, "mark": "line", "encoding": {"color": {"datum": "GroundTruth", "type": "nominal", "legend": {"title": null}}}},
  {"data": {"name": "gt"}, "transform": [{"filter": "datum.x <= 95"}], "mark": "line", "encoding": {"color": {"datum": "Prediction", "type": "nominal"}}},
  {"data": {"name": "pred"}, "transform": [{"filter": "datum.p == 'f'"}], "mark": "line", "encoding": {"color": {"datum": "Prediction", "type": "nominal"}}}
 ]},
{"width": 172, "height": 131, "title": {"text": "(g)  Fedformer + PALS", "fontSize": 18.5, "offset": 17, "dx": -4},
 "encoding": {"x": {"field": "x", "type": "quantitative", "scale": {"domain": [-21.6, 454.6], "nice": false}, "axis": {"values": [0,100,200,300,400], "format": "d", "title": null}},
  "y": {"field": "y", "type": "quantitative", "scale": {"domain": [-1.045, 0.745], "nice": false, "zero": false}, "axis": {"values": [-1,-0.8,-0.6,-0.4,-0.2,0,0.2,0.4,0.6], "format": ".1f", "title": null}}},
 "layer": [
  {"data": {"name": "gt"}, "mark": "line", "encoding": {"color": {"datum": "GroundTruth", "type": "nominal", "legend": {"title": null}}}},
  {"data": {"name": "gt"}, "transform": [{"filter": "datum.x <= 95"}], "mark": "line", "encoding": {"color": {"datum": "Prediction", "type": "nominal"}}},
  {"data": {"name": "pred"}, "transform": [{"filter": "datum.p == 'g'"}], "mark": "line", "encoding": {"color": {"datum": "Prediction", "type": "nominal"}}}
 ]},
{"width": 172, "height": 131, "title": {"text": "(h)  Autoformer + PALS", "fontSize": 18.5, "offset": 17, "dx": -4},
 "encoding": {"x": {"field": "x", "type": "quantitative", "scale": {"domain": [-21.6, 454.6], "nice": false}, "axis": {"values": [0,100,200,300,400], "format": "d", "title": null}},
  "y": {"field": "y", "type": "quantitative", "scale": {"domain": [-1.085, 0.745], "nice": false, "zero": false}, "axis": {"values": [-1,-0.75,-0.5,-0.25,0,0.25,0.5], "format": ".2f", "title": null}}},
 "layer": [
  {"data": {"name": "gt"}, "mark": "line", "encoding": {"color": {"datum": "GroundTruth", "type": "nominal", "legend": {"title": null}}}},
  {"data": {"name": "gt"}, "transform": [{"filter": "datum.x <= 95"}], "mark": "line", "encoding": {"color": {"datum": "Prediction", "type": "nominal"}}},
  {"data": {"name": "pred"}, "transform": [{"filter": "datum.p == 'h'"}], "mark": "line", "encoding": {"color": {"datum": "Prediction", "type": "nominal"}}}
 ]},
{"width": 172, "height": 131, "title": {"text": "(i)  Informer + PALS", "fontSize": 18.5, "offset": 17, "dx": 0},
 "encoding": {"x": {"field": "x", "type": "quantitative", "scale": {"domain": [-21.6, 454.6], "nice": false}, "axis": {"values": [0,100,200,300,400], "format": "d", "title": null}},
  "y": {"field": "y", "type": "quantitative", "scale": {"domain": [-1.045, 0.745], "nice": false, "zero": false}, "axis": {"values": [-1,-0.8,-0.6,-0.4,-0.2,0,0.2,0.4,0.6], "format": ".1f", "title": null}}},
 "layer": [
  {"data": {"name": "gt"}, "mark": "line", "encoding": {"color": {"datum": "GroundTruth", "type": "nominal", "legend": {"title": null}}}},
  {"data": {"name": "gt"}, "transform": [{"filter": "datum.x <= 95"}], "mark": "line", "encoding": {"color": {"datum": "Prediction", "type": "nominal"}}},
  {"data": {"name": "pred"}, "transform": [{"filter": "datum.p == 'i'"}], "mark": "line", "encoding": {"color": {"datum": "Prediction", "type": "nominal"}}}
 ]},
{"width": 172, "height": 131, "title": {"text": "(j)  Transformer + PALS", "fontSize": 18.5, "offset": 17, "dx": -5},
 "encoding": {"x": {"field": "x", "type": "quantitative", "scale": {"domain": [-21.6, 454.6], "nice": false}, "axis": {"values": [0,100,200,300,400], "format": "d", "title": null}},
  "y": {"field": "y", "type": "quantitative", "scale": {"domain": [-1.045, 0.745], "nice": false, "zero": false}, "axis": {"values": [-1,-0.8,-0.6,-0.4,-0.2,0,0.2,0.4,0.6], "format": ".1f", "title": null}}},
 "layer": [
  {"data": {"name": "gt"}, "mark": "line", "encoding": {"color": {"datum": "GroundTruth", "type": "nominal", "legend": {"title": null}}}},
  {"data": {"name": "gt"}, "transform": [{"filter": "datum.x <= 95"}], "mark": "line", "encoding": {"color": {"datum": "Prediction", "type": "nominal"}}},
  {"data": {"name": "pred"}, "transform": [{"filter": "datum.p == 'j'"}], "mark": "line", "encoding": {"color": {"datum": "Prediction", "type": "nominal"}}}
 ]}
], "spacing": 31, "bounds": "flush", "resolve": {"scale": {"color": "independent"}, "legend": {"color": "independent"}}}
]
}
